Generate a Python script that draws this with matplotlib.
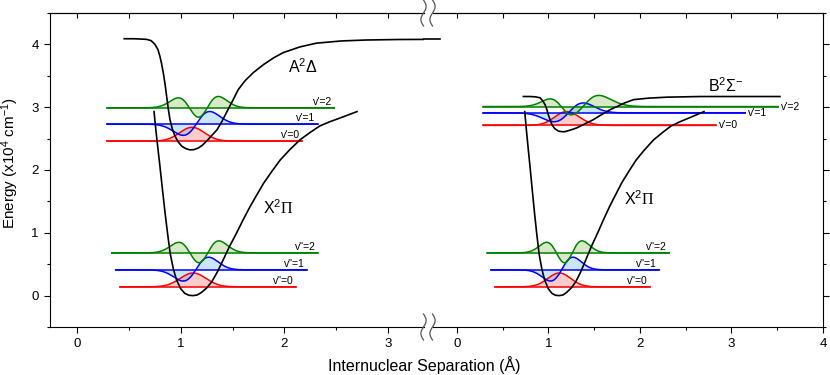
import numpy as np
import matplotlib
matplotlib.use('Agg')
import matplotlib.pyplot as plt
from matplotlib.lines import Line2D
from matplotlib.ticker import MultipleLocator

plt.rcParams['font.family'] = ['Liberation Sans', 'DejaVu Sans']
plt.rcParams['mathtext.fontset'] = 'custom'
plt.rcParams['mathtext.rm'] = 'Liberation Sans'
plt.rcParams['mathtext.it'] = 'Liberation Sans:italic'
plt.rcParams['mathtext.bf'] = 'Liberation Sans:bold'
plt.rcParams['mathtext.sf'] = 'Liberation Serif'
plt.rcParams['mathtext.default'] = 'regular'

# ---------------- potential curves (r in Angstrom, E in 1e4 cm^-1) -------------
X_r = [0.743, 0.76, 0.78, 0.80, 0.825, 0.85, 0.875, 0.90, 0.93, 0.96, 1.00, 1.04,
       1.08, 1.12, 1.16, 1.20, 1.25, 1.30, 1.355, 1.41, 1.47, 1.54, 1.60, 1.67,
       1.74, 1.80, 1.88, 1.96, 2.05, 2.15, 2.25, 2.34, 2.44, 2.54, 2.62, 2.70]
X_E = [2.93, 2.65, 2.35, 2.06, 1.68, 1.31, 0.97, 0.66, 0.42, 0.25, 0.11, 0.035,
       0.005, 0.0, 0.01, 0.05, 0.12, 0.22, 0.38, 0.57, 0.78, 1.00, 1.20, 1.42,
       1.62, 1.79, 1.98, 2.16, 2.32, 2.48, 2.60, 2.70, 2.77, 2.83, 2.88, 2.93]

A_r = [0.456, 0.55, 0.62, 0.672, 0.715, 0.752, 0.78, 0.80, 0.815, 0.832, 0.85,
       0.865, 0.88, 0.897, 0.92, 0.945, 0.975, 1.01, 1.05, 1.09, 1.13, 1.17, 1.21,
       1.25, 1.30, 1.35, 1.40, 1.44, 1.50, 1.555, 1.62, 1.70, 1.80, 1.90, 1.99,
       2.15, 2.31, 2.55, 2.79, 3.10, 3.40]
A_E = [4.09, 4.09, 4.085, 4.08, 4.06, 4.00, 3.92, 3.81, 3.70, 3.55, 3.36,
       3.17, 2.98, 2.80, 2.65, 2.54, 2.45, 2.38, 2.34, 2.32, 2.325, 2.35, 2.395,
       2.46, 2.55, 2.64, 2.78, 2.91, 3.10, 3.28, 3.42, 3.55, 3.68, 3.79, 3.87,
       3.96, 4.02, 4.055, 4.07, 4.078, 4.08]
# continuation of the A curve just past the axis break (right-panel coordinates)
A_tail_r = [-0.357, -0.18]
A_tail_E = [4.08, 4.08]

B_r = [0.728, 0.80, 0.86, 0.91, 0.94, 0.965, 0.985, 1.00, 1.02, 1.04, 1.07, 1.11,
       1.15, 1.18, 1.24, 1.31, 1.40, 1.49, 1.58, 1.675, 1.75, 1.82, 1.93, 2.10,
       2.30, 2.66, 3.10, 3.53]
B_E = [3.17, 3.17, 3.165, 3.15, 3.10, 3.04, 2.96, 2.88, 2.80, 2.72, 2.66, 2.62,
       2.61, 2.61, 2.635, 2.67, 2.735, 2.80, 2.88, 2.96, 3.01, 3.06, 3.12, 3.145,
       3.16, 3.17, 3.17, 3.17]

# ---------------- vibrational levels ----------------
lev_colors = ['#ff0000', '#0000ff', '#008000']
lev_fills = ['#ff3333', '#3399ee', '#66aa22']
up_labels = ["v'=0", "v'=1", "v'=2"]
lo_labels = ['v"=0', 'v"=1', 'v"=2']

# A state (left panel, upper)
A_lev_E = [2.46, 2.73, 2.99]
A_lev_x0 = [0.29, 0.29, 0.29]
A_lev_x1 = [2.17, 2.32, 2.48]
A_psi_c = [1.11, 1.15, 1.17]
A_psi_sL = [0.12, 0.128, 0.122]
A_psi_sR = [0.12, 0.128, 0.122]
A_psi_amp = [0.22, 0.19, 0.17]
A_psi_skew = [0.0, 0.08, 0.07]

# X state (left panel, lower)
XL_lev_E = [0.14, 0.41, 0.68]
XL_lev_x0 = [0.415, 0.373, 0.335]
XL_lev_x1 = [2.11, 2.215, 2.32]
# X state (right panel, lower)
XR_lev_E = [0.14, 0.41, 0.68]
XR_lev_x0 = [0.42, 0.375, 0.335]
XR_lev_x1 = [2.11, 2.21, 2.32]
X_psi_c = [1.12, 1.145, 1.175]
X_psi_sL = [0.125, 0.123, 0.122]
X_psi_sR = [0.125, 0.123, 0.122]
X_psi_amp = [0.22, 0.19, 0.18]
X_psi_skew = [0.0, 0.08, 0.07]

# B state (right panel, upper)
B_lev_E = [2.71, 2.91, 3.01]
B_lev_x0 = [0.29, 0.29, 0.29]
B_lev_x1 = [2.83, 3.15, 3.51]
B_psi_c = [1.20, 1.22, 1.24]
B_psi_sL = [0.13, 0.16, 0.14]
B_psi_sR = [0.14, 0.16, 0.196]
B_psi_amp = [0.22, 0.15, 0.15]
B_psi_skew = [0.0, 0.07, 0.2]

# state labels
left_state_txt = [r'A$^2$Δ', r'X$^2$$\mathsf{\Pi}$']
left_state_pos = [(2.18, 3.65), (1.94, 1.40)]
right_state_txt = [r'B$^2$Σ$^{-}$', r'X$^2$$\mathsf{\Pi}$']
right_state_pos = [(2.94, 3.34), (1.99, 1.54)]


def psi(x, n, c, sL, sR, amp, skew):
    s = np.where(x < c, sL, sR)
    xi = (x - c) / s
    g = np.exp(-xi ** 2 / 2)
    if n == 0:
        f = g
    elif n == 1:
        f = xi * g / np.exp(-0.5)
    else:
        f = (2 * xi ** 2 - 1) * g / (4 * np.exp(-1.25))
    return amp * f * (1 + skew * np.tanh(xi))


def draw_levels(ax, E, x0, x1, c, sL, sR, amp, skew, labels, mode):
    for n in range(3):
        x = np.linspace(x0[n], x1[n], 800)
        y = E[n] + psi(x, n, c[n], sL[n], sR[n], amp[n], skew[n])
        ax.fill_between(x, E[n], y, color=lev_fills[n], alpha=0.25, lw=0, zorder=1)
        ax.plot([x0[n], x1[n]], [E[n], E[n]], color=lev_colors[n], lw=1.1, zorder=2)
        ax.plot(x, y, color=lev_colors[n], lw=1.1, zorder=2)
        if mode == 'above':
            ax.text(x1[n] - 0.02, E[n] + 0.02, labels[n], ha='right', va='bottom',
                    fontsize=7.5)
        else:
            ax.text(x1[n] + 0.03, E[n], labels[n], ha='left', va='center',
                    fontsize=7.5)


W, H = 830, 375
fig = plt.figure(figsize=(W / 100, H / 100), dpi=100)
ax1 = fig.add_axes([50 / W, (H - 327) / H, (424 - 50) / W, (327 - 13) / H])
ax2 = fig.add_axes([433 / W, (H - 327) / H, (823 - 433) / W, (327 - 13) / H])

# left panel
ax1.plot(A_r, A_E, color='black', lw=1.2, zorder=3)
ax1.plot(X_r, X_E, color='black', lw=1.2, zorder=3)
draw_levels(ax1, A_lev_E, A_lev_x0, A_lev_x1, A_psi_c, A_psi_sL, A_psi_sR,
            A_psi_amp, A_psi_skew, up_labels, 'above')
draw_levels(ax1, XL_lev_E, XL_lev_x0, XL_lev_x1, X_psi_c, X_psi_sL, X_psi_sR,
            X_psi_amp, X_psi_skew, lo_labels, 'above')
for t, p in zip(left_state_txt, left_state_pos):
    ax1.text(p[0], p[1], t, ha='center', va='center', fontsize=11.5)

# right panel
ax2.plot(A_tail_r, A_tail_E, color='black', lw=1.2, zorder=3, clip_on=False)
ax2.plot(B_r, B_E, color='black', lw=1.2, zorder=3)
ax2.plot(X_r, X_E, color='black', lw=1.2, zorder=3)
draw_levels(ax2, B_lev_E, B_lev_x0, B_lev_x1, B_psi_c, B_psi_sL, B_psi_sR,
            B_psi_amp, B_psi_skew, up_labels, 'right')
draw_levels(ax2, XR_lev_E, XR_lev_x0, XR_lev_x1, X_psi_c, X_psi_sL, X_psi_sR,
            X_psi_amp, X_psi_skew, lo_labels, 'above')
for t, p in zip(right_state_txt, right_state_pos):
    ax2.text(p[0], p[1], t, ha='center', va='center', fontsize=11.5)

ax1.set_xlim(-0.26, (424 - 77) / 103.7)
ax2.set_xlim((433 - 456.7) / 91.5, 4.0)
for ax in (ax1, ax2):
    ax.set_ylim(-0.5, 4.5)
    ax.xaxis.set_major_locator(MultipleLocator(1))
    ax.xaxis.set_minor_locator(MultipleLocator(0.5))
    ax.yaxis.set_major_locator(MultipleLocator(1))
    ax.yaxis.set_minor_locator(MultipleLocator(0.5))
    ax.tick_params(axis='x', which='both', direction='out', top=False, bottom=True,
                   labelsize=9.5, width=0.8)
    ax.tick_params(axis='x', which='major', length=4.5)
    ax.tick_params(axis='x', which='minor', length=2.5)
    for sp in ax.spines.values():
        sp.set_linewidth(0.8)
    sec = ax.secondary_xaxis('top')
    sec.xaxis.set_major_locator(MultipleLocator(1))
    sec.xaxis.set_minor_locator(MultipleLocator(0.5))
    sec.tick_params(axis='x', which='both', direction='in', labeltop=False,
                    width=0.8, length=3.5)
    sec.spines['top'].set_linewidth(0.8)

ax1.spines['right'].set_visible(False)
ax1.tick_params(axis='y', which='both', direction='out', left=True, right=False,
                labelsize=9.5, width=0.8)
ax1.tick_params(axis='y', which='major', length=4.5)
ax1.tick_params(axis='y', which='minor', length=2.5)

ax2.spines['left'].set_visible(False)
ax2.tick_params(axis='y', which='both', direction='out', left=False, right=True,
                labelleft=False, labelright=False, width=0.8)
ax2.tick_params(axis='y', which='major', length=4.5)
ax2.tick_params(axis='y', which='minor', length=2.5)

fig.text(10 / W, 1 - 163 / H, r'Energy (x10$^4$ cm$^{-1}$)', rotation=90,
         ha='center', va='center', fontsize=11)
fig.text(424 / W, 1 - 371 / H, 'Internuclear Separation (Å)', ha='center',
         va='baseline', fontsize=11.5)

# axis-break marks
t = np.linspace(0, 1, 60)
for yc in (13, 327):
    for xc in (423.5, 432.5):
        xs = xc - 2.6 * np.sin(2 * np.pi * t)
        ys = yc + 13 - 26 * t
        fig.add_artist(Line2D(xs / W, 1 - ys / H, color='#555555', lw=0.9,
                              transform=fig.transFigure))

fig.savefig('out.png', dpi=100)
